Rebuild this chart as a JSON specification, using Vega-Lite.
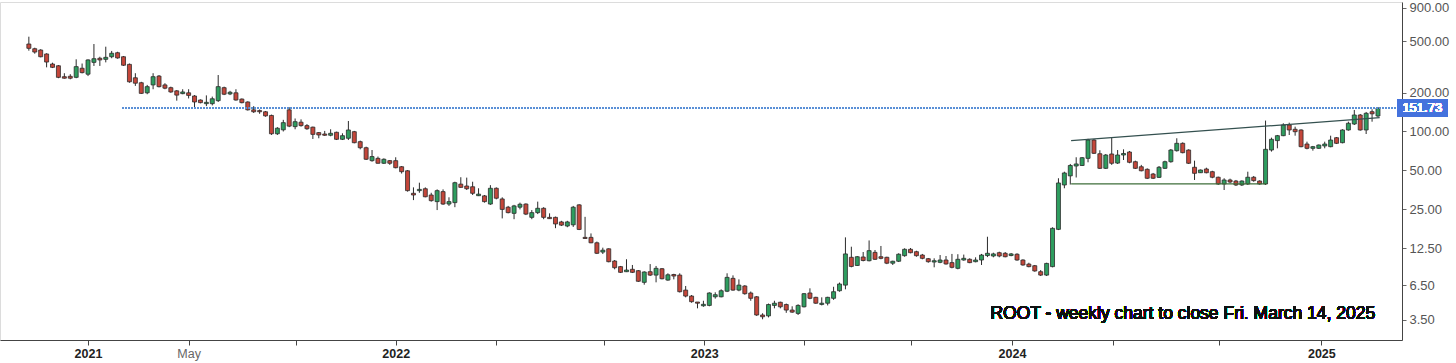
{
 "$schema": "https://vega.github.io/schema/vega-lite/v6.json",
 "width": 1402,
 "height": 338,
 "autosize": {"type": "none"},
 "padding": {"left": 0, "top": 2, "right": 54, "bottom": 23},
 "background": "white",
 "config": {"view": {"stroke": "#dcdcdc"}, "font": "Liberation Sans"},
 "data": {"values": [
  {"d":"2020-10-26","o":474,"h":540,"l":421,"c":439},
  {"d":"2020-11-02","o":436,"h":444,"l":399,"c":411},
  {"d":"2020-11-09","o":426,"h":432,"l":374,"c":378},
  {"d":"2020-11-16","o":397,"h":402,"l":313,"c":344},
  {"d":"2020-11-23","o":332,"h":340,"l":309,"c":313},
  {"d":"2020-11-30","o":322,"h":326,"l":258,"c":262},
  {"d":"2020-12-07","o":265,"h":282,"l":256,"c":258},
  {"d":"2020-12-14","o":267,"h":277,"l":253,"c":258},
  {"d":"2020-12-21","o":262,"h":361,"l":258,"c":317},
  {"d":"2020-12-28","o":308,"h":335,"l":281,"c":285},
  {"d":"2021-01-04","o":277,"h":361,"l":268,"c":357},
  {"d":"2021-01-11","o":342,"h":474,"l":321,"c":365},
  {"d":"2021-01-18","o":368,"h":378,"l":321,"c":357},
  {"d":"2021-01-25","o":361,"h":452,"l":342,"c":374},
  {"d":"2021-02-01","o":378,"h":419,"l":368,"c":402},
  {"d":"2021-02-08","o":406,"h":413,"l":365,"c":370},
  {"d":"2021-02-15","o":378,"h":383,"l":321,"c":325},
  {"d":"2021-02-22","o":330,"h":335,"l":238,"c":242},
  {"d":"2021-03-01","o":260,"h":282,"l":225,"c":236},
  {"d":"2021-03-08","o":238,"h":242,"l":195,"c":197},
  {"d":"2021-03-15","o":199,"h":229,"l":194,"c":222},
  {"d":"2021-03-22","o":229,"h":282,"l":212,"c":265},
  {"d":"2021-03-29","o":268,"h":273,"l":219,"c":222},
  {"d":"2021-04-05","o":229,"h":236,"l":212,"c":216},
  {"d":"2021-04-12","o":218,"h":222,"l":199,"c":202},
  {"d":"2021-04-19","o":206,"h":209,"l":173,"c":191},
  {"d":"2021-04-26","o":196,"h":212,"l":194,"c":202},
  {"d":"2021-05-03","o":199,"h":212,"l":180,"c":190},
  {"d":"2021-05-10","o":188,"h":191,"l":154,"c":169},
  {"d":"2021-05-17","o":175,"h":177,"l":165,"c":167},
  {"d":"2021-05-24","o":164,"h":190,"l":157,"c":168},
  {"d":"2021-05-31","o":164,"h":186,"l":159,"c":179},
  {"d":"2021-06-07","o":173,"h":273,"l":169,"c":222},
  {"d":"2021-06-14","o":218,"h":222,"l":191,"c":194},
  {"d":"2021-06-21","o":195,"h":206,"l":191,"c":201},
  {"d":"2021-06-28","o":199,"h":212,"l":173,"c":175},
  {"d":"2021-07-05","o":178,"h":180,"l":165,"c":167},
  {"d":"2021-07-12","o":169,"h":171,"l":145,"c":147},
  {"d":"2021-07-19","o":147,"h":157,"l":139,"c":142},
  {"d":"2021-07-26","o":145,"h":148,"l":137,"c":142},
  {"d":"2021-08-02","o":142,"h":144,"l":130,"c":132},
  {"d":"2021-08-09","o":133,"h":135,"l":94,"c":96},
  {"d":"2021-08-16","o":96,"h":108,"l":94,"c":106},
  {"d":"2021-08-23","o":103,"h":123,"l":100,"c":117},
  {"d":"2021-08-30","o":147,"h":154,"l":108,"c":110},
  {"d":"2021-09-06","o":109,"h":126,"l":104,"c":119},
  {"d":"2021-09-13","o":118,"h":124,"l":109,"c":111},
  {"d":"2021-09-20","o":111,"h":114,"l":103,"c":105},
  {"d":"2021-09-27","o":108,"h":109,"l":87.5,"c":95},
  {"d":"2021-10-04","o":98,"h":99,"l":88.6,"c":94},
  {"d":"2021-10-11","o":95.6,"h":101,"l":92.5,"c":93.5},
  {"d":"2021-10-18","o":93.5,"h":104,"l":91.8,"c":96.8},
  {"d":"2021-10-25","o":98.6,"h":99.6,"l":85.9,"c":87},
  {"d":"2021-11-01","o":87,"h":96.8,"l":85.9,"c":92.8},
  {"d":"2021-11-08","o":88.6,"h":120.5,"l":85.9,"c":102.7},
  {"d":"2021-11-15","o":99.6,"h":101,"l":81,"c":81.9},
  {"d":"2021-11-22","o":83.4,"h":85,"l":72.8,"c":74.9},
  {"d":"2021-11-29","o":74.9,"h":76.3,"l":60.2,"c":61},
  {"d":"2021-12-06","o":59.5,"h":71.9,"l":58.4,"c":64},
  {"d":"2021-12-13","o":62,"h":64,"l":56.5,"c":56.8},
  {"d":"2021-12-20","o":56.8,"h":62,"l":56.1,"c":61},
  {"d":"2021-12-27","o":59.5,"h":60.2,"l":55.2,"c":56.8},
  {"d":"2022-01-03","o":59.5,"h":63.2,"l":51.9,"c":52.5},
  {"d":"2022-01-10","o":53.4,"h":54.1,"l":47.3,"c":48.9},
  {"d":"2022-01-17","o":49.7,"h":50.3,"l":34.3,"c":34.9},
  {"d":"2022-01-24","o":33.3,"h":37,"l":29.5,"c":32.3},
  {"d":"2022-01-31","o":34.9,"h":40.2,"l":33.6,"c":35.7},
  {"d":"2022-02-07","o":36.1,"h":37,"l":31,"c":31.3},
  {"d":"2022-02-14","o":32.3,"h":33.6,"l":28.7,"c":29.2},
  {"d":"2022-02-21","o":28.7,"h":35.7,"l":24.7,"c":34.9},
  {"d":"2022-02-28","o":34.3,"h":35.7,"l":27.1,"c":27.5},
  {"d":"2022-03-07","o":27.5,"h":31,"l":26.6,"c":28.7},
  {"d":"2022-03-14","o":28.2,"h":40.9,"l":26,"c":40.2},
  {"d":"2022-03-21","o":39.2,"h":44.3,"l":36.8,"c":37},
  {"d":"2022-03-28","o":37.9,"h":44,"l":35.3,"c":36.1},
  {"d":"2022-04-04","o":37.4,"h":40.9,"l":32.3,"c":33.3},
  {"d":"2022-04-11","o":31.9,"h":36.4,"l":31.7,"c":32.8},
  {"d":"2022-04-18","o":31.8,"h":32.3,"l":28.2,"c":28.7},
  {"d":"2022-04-25","o":27.5,"h":38.5,"l":27.1,"c":36.4},
  {"d":"2022-05-02","o":36.4,"h":37,"l":29.9,"c":30.5},
  {"d":"2022-05-09","o":30.1,"h":31,"l":21.3,"c":25},
  {"d":"2022-05-16","o":26,"h":26.6,"l":23.3,"c":23.6},
  {"d":"2022-05-23","o":23.3,"h":27.1,"l":21,"c":26.6},
  {"d":"2022-05-30","o":26,"h":28.2,"l":25,"c":27.4},
  {"d":"2022-06-06","o":27.5,"h":27.8,"l":22.6,"c":23},
  {"d":"2022-06-13","o":21.7,"h":24.7,"l":21,"c":23.6},
  {"d":"2022-06-20","o":23.6,"h":28.7,"l":23,"c":25.5},
  {"d":"2022-06-27","o":25.5,"h":26,"l":21,"c":21.7},
  {"d":"2022-07-04","o":21.7,"h":23.3,"l":21.1,"c":21.2},
  {"d":"2022-07-11","o":21.7,"h":22,"l":17.9,"c":19.3},
  {"d":"2022-07-18","o":20,"h":20.4,"l":18.6,"c":18.9},
  {"d":"2022-07-25","o":18.6,"h":20.4,"l":18.2,"c":20},
  {"d":"2022-08-01","o":19,"h":26.6,"l":18.3,"c":26},
  {"d":"2022-08-08","o":27.1,"h":27.4,"l":17.3,"c":17.5},
  {"d":"2022-08-15","o":15.2,"h":21.9,"l":14.8,"c":14.9},
  {"d":"2022-08-22","o":15.2,"h":16.3,"l":13.7,"c":13.8},
  {"d":"2022-08-29","o":13.8,"h":14.1,"l":11.3,"c":11.45},
  {"d":"2022-09-05","o":11.7,"h":12.65,"l":11.3,"c":12.1},
  {"d":"2022-09-12","o":12.4,"h":12.5,"l":9.75,"c":9.86},
  {"d":"2022-09-19","o":9.98,"h":10.16,"l":8.61,"c":8.86},
  {"d":"2022-09-26","o":9.03,"h":9.14,"l":8.06,"c":8.16},
  {"d":"2022-10-03","o":8.25,"h":10.3,"l":8.2,"c":8.5},
  {"d":"2022-10-10","o":8.61,"h":9.3,"l":8.06,"c":8.16},
  {"d":"2022-10-17","o":8.4,"h":8.5,"l":6.87,"c":6.96},
  {"d":"2022-10-24","o":6.83,"h":8.31,"l":6.55,"c":8.21},
  {"d":"2022-10-31","o":8.25,"h":9.45,"l":7.64,"c":7.77},
  {"d":"2022-11-07","o":7.77,"h":9.14,"l":6.83,"c":8.76},
  {"d":"2022-11-14","o":8.7,"h":8.81,"l":7.2,"c":7.28},
  {"d":"2022-11-21","o":7.11,"h":8.02,"l":7.02,"c":7.81},
  {"d":"2022-11-28","o":7.85,"h":7.95,"l":7.2,"c":7.64},
  {"d":"2022-12-05","o":7.77,"h":8.02,"l":5.7,"c":5.78},
  {"d":"2022-12-12","o":5.95,"h":6.4,"l":5.23,"c":5.35},
  {"d":"2022-12-19","o":5.35,"h":5.45,"l":4.75,"c":4.84},
  {"d":"2022-12-26","o":4.81,"h":4.81,"l":4.3,"c":4.71},
  {"d":"2023-01-02","o":4.5,"h":4.92,"l":4.42,"c":4.62},
  {"d":"2023-01-09","o":4.53,"h":5.72,"l":4.46,"c":5.65},
  {"d":"2023-01-16","o":5.28,"h":5.72,"l":5.11,"c":5.48},
  {"d":"2023-01-23","o":5.28,"h":6.03,"l":5.23,"c":5.88},
  {"d":"2023-01-30","o":5.83,"h":8.02,"l":5.74,"c":7.46},
  {"d":"2023-02-06","o":7.33,"h":7.73,"l":5.88,"c":5.95},
  {"d":"2023-02-13","o":5.95,"h":7.2,"l":5.83,"c":6.5},
  {"d":"2023-02-20","o":6.4,"h":6.5,"l":5.48,"c":5.58},
  {"d":"2023-02-27","o":5.65,"h":5.8,"l":4.92,"c":5.14},
  {"d":"2023-03-06","o":5.28,"h":5.35,"l":3.76,"c":3.82},
  {"d":"2023-03-13","o":3.82,"h":3.94,"l":3.54,"c":3.7},
  {"d":"2023-03-20","o":3.76,"h":4.68,"l":3.66,"c":4.6},
  {"d":"2023-03-27","o":4.53,"h":4.92,"l":4.3,"c":4.71},
  {"d":"2023-04-03","o":4.79,"h":4.84,"l":4.3,"c":4.42},
  {"d":"2023-04-10","o":4.6,"h":4.68,"l":3.97,"c":4.17},
  {"d":"2023-04-17","o":4.17,"h":4.46,"l":3.97,"c":4.02},
  {"d":"2023-04-24","o":3.93,"h":4.62,"l":3.82,"c":4.53},
  {"d":"2023-05-01","o":4.42,"h":5.65,"l":4.37,"c":5.58},
  {"d":"2023-05-08","o":5.65,"h":6.14,"l":5.06,"c":5.14},
  {"d":"2023-05-15","o":5.23,"h":5.28,"l":4.66,"c":4.71},
  {"d":"2023-05-22","o":4.61,"h":5.23,"l":4.53,"c":4.71},
  {"d":"2023-05-29","o":4.71,"h":5.28,"l":4.53,"c":5.23},
  {"d":"2023-06-05","o":5.14,"h":6.31,"l":5,"c":5.78},
  {"d":"2023-06-12","o":5.88,"h":6.8,"l":5.78,"c":6.63},
  {"d":"2023-06-19","o":6.5,"h":15.2,"l":6.03,"c":11.32},
  {"d":"2023-06-26","o":10.66,"h":12.87,"l":8.92,"c":9.06},
  {"d":"2023-07-03","o":9.22,"h":10.9,"l":9.14,"c":10.77},
  {"d":"2023-07-10","o":10.72,"h":11.71,"l":9.92,"c":10.07},
  {"d":"2023-07-17","o":10.03,"h":14.39,"l":9.92,"c":12},
  {"d":"2023-07-24","o":11.64,"h":12.14,"l":10.16,"c":10.29},
  {"d":"2023-07-31","o":10.77,"h":13.04,"l":10.29,"c":10.47},
  {"d":"2023-08-07","o":10.66,"h":10.77,"l":9.44,"c":9.6},
  {"d":"2023-08-14","o":9.6,"h":10.03,"l":9.3,"c":9.94},
  {"d":"2023-08-21","o":9.94,"h":11.45,"l":9.8,"c":11.26},
  {"d":"2023-08-28","o":10.97,"h":12.51,"l":10.77,"c":12.29},
  {"d":"2023-09-04","o":12.29,"h":12.58,"l":11.45,"c":11.57},
  {"d":"2023-09-11","o":11.78,"h":11.98,"l":10.77,"c":10.97},
  {"d":"2023-09-18","o":11.1,"h":11.32,"l":10.29,"c":10.47},
  {"d":"2023-09-25","o":10.4,"h":10.53,"l":9.68,"c":9.86},
  {"d":"2023-10-02","o":9.8,"h":10.47,"l":8.92,"c":10.03},
  {"d":"2023-10-09","o":9.75,"h":11.1,"l":9.6,"c":10.16},
  {"d":"2023-10-16","o":10.16,"h":10.91,"l":9.36,"c":9.47},
  {"d":"2023-10-23","o":9.7,"h":11.32,"l":8.76,"c":8.92},
  {"d":"2023-10-30","o":8.76,"h":11.26,"l":8.61,"c":10.29},
  {"d":"2023-11-06","o":10.16,"h":11.19,"l":10.03,"c":10.47},
  {"d":"2023-11-13","o":10.29,"h":10.47,"l":9.6,"c":9.7},
  {"d":"2023-11-20","o":9.86,"h":10.66,"l":9.75,"c":10.16},
  {"d":"2023-11-27","o":10.16,"h":11.32,"l":9.3,"c":11.1},
  {"d":"2023-12-04","o":11,"h":15.37,"l":10.7,"c":11.45},
  {"d":"2023-12-11","o":10.91,"h":11.57,"l":10.66,"c":11.32},
  {"d":"2023-12-18","o":11.57,"h":11.78,"l":10.66,"c":10.91},
  {"d":"2023-12-25","o":11.45,"h":11.71,"l":10.66,"c":10.77},
  {"d":"2024-01-01","o":11,"h":11.51,"l":10.86,"c":11.32},
  {"d":"2024-01-08","o":11.26,"h":11.45,"l":10.03,"c":10.16},
  {"d":"2024-01-15","o":10.16,"h":10.29,"l":9.18,"c":9.3},
  {"d":"2024-01-22","o":9.45,"h":9.68,"l":8.92,"c":9.03},
  {"d":"2024-01-29","o":9.18,"h":9.3,"l":8.25,"c":8.36},
  {"d":"2024-02-05","o":8.25,"h":8.5,"l":7.64,"c":7.77},
  {"d":"2024-02-12","o":7.77,"h":9.68,"l":7.64,"c":9.56},
  {"d":"2024-02-19","o":9.03,"h":18.18,"l":8.92,"c":17.85},
  {"d":"2024-02-26","o":17.53,"h":43.5,"l":17.3,"c":40},
  {"d":"2024-03-04","o":38.6,"h":48.9,"l":36.4,"c":47.8},
  {"d":"2024-03-11","o":45.4,"h":56.1,"l":38.9,"c":54.6},
  {"d":"2024-03-18","o":54.1,"h":63.2,"l":44.1,"c":56.1},
  {"d":"2024-03-25","o":54.6,"h":63.5,"l":54.1,"c":62.7},
  {"d":"2024-04-01","o":62,"h":87.8,"l":57.8,"c":85.9},
  {"d":"2024-04-08","o":85.9,"h":87.5,"l":67,"c":67.8},
  {"d":"2024-04-15","o":67.3,"h":71.6,"l":51.3,"c":51.9},
  {"d":"2024-04-22","o":51.9,"h":67,"l":51.3,"c":65.8},
  {"d":"2024-04-29","o":67,"h":89.9,"l":55.2,"c":56.8},
  {"d":"2024-05-06","o":57,"h":71.9,"l":56.1,"c":65.8},
  {"d":"2024-05-13","o":65.8,"h":72.8,"l":60.2,"c":67.6},
  {"d":"2024-05-20","o":69.4,"h":70.7,"l":56.8,"c":57.8},
  {"d":"2024-05-27","o":58.4,"h":59.5,"l":51.3,"c":51.9},
  {"d":"2024-06-03","o":53.4,"h":55.2,"l":49.2,"c":49.7},
  {"d":"2024-06-10","o":51,"h":51.9,"l":42.9,"c":43.5},
  {"d":"2024-06-17","o":46.9,"h":47.8,"l":42.9,"c":43.5},
  {"d":"2024-06-24","o":44.2,"h":54.1,"l":43.7,"c":52.9},
  {"d":"2024-07-01","o":51.9,"h":59.5,"l":51.3,"c":58.4},
  {"d":"2024-07-08","o":58.4,"h":73.2,"l":57.4,"c":71.9},
  {"d":"2024-07-15","o":71.05,"h":88.6,"l":69.9,"c":81},
  {"d":"2024-07-22","o":81,"h":82.4,"l":67.8,"c":68.6},
  {"d":"2024-07-29","o":71.9,"h":72.8,"l":56.1,"c":56.8},
  {"d":"2024-08-05","o":52.9,"h":59.5,"l":42.2,"c":47.5},
  {"d":"2024-08-12","o":48,"h":50.8,"l":47.8,"c":50.4},
  {"d":"2024-08-19","o":51.3,"h":52.5,"l":47.5,"c":48},
  {"d":"2024-08-26","o":48.9,"h":49.7,"l":43.5,"c":44.3},
  {"d":"2024-09-02","o":44.3,"h":44.8,"l":38.6,"c":39.3},
  {"d":"2024-09-09","o":39.3,"h":43.5,"l":35.3,"c":42.2},
  {"d":"2024-09-16","o":42.2,"h":43.2,"l":39.8,"c":40.7},
  {"d":"2024-09-23","o":41.4,"h":42.2,"l":37.9,"c":38.6},
  {"d":"2024-09-30","o":38.6,"h":41.9,"l":37.9,"c":41.4},
  {"d":"2024-10-07","o":39.3,"h":48.9,"l":38.6,"c":44.3},
  {"d":"2024-10-14","o":44.3,"h":45.3,"l":40.9,"c":41.7},
  {"d":"2024-10-21","o":41.4,"h":41.9,"l":38.8,"c":39.3},
  {"d":"2024-10-28","o":39.3,"h":121.4,"l":38.6,"c":72.8},
  {"d":"2024-11-04","o":71.9,"h":89.6,"l":69.9,"c":87},
  {"d":"2024-11-11","o":85,"h":94,"l":74.1,"c":92.8},
  {"d":"2024-11-18","o":92.8,"h":115.7,"l":92,"c":112.2},
  {"d":"2024-11-25","o":112.2,"h":116.9,"l":93.9,"c":102.7},
  {"d":"2024-12-02","o":104,"h":108.9,"l":92.8,"c":99.6},
  {"d":"2024-12-09","o":102.7,"h":104,"l":75.5,"c":76.3},
  {"d":"2024-12-16","o":80,"h":83.4,"l":72.8,"c":74.1},
  {"d":"2024-12-23","o":74.1,"h":77.3,"l":71.1,"c":76.3},
  {"d":"2024-12-30","o":74.1,"h":79.3,"l":73.5,"c":78.6},
  {"d":"2025-01-06","o":77.3,"h":83.4,"l":74.1,"c":80},
  {"d":"2025-01-13","o":76.3,"h":92.8,"l":75.5,"c":85.9},
  {"d":"2025-01-20","o":89.5,"h":90.6,"l":80,"c":81},
  {"d":"2025-01-27","o":81.9,"h":104,"l":81,"c":102.7},
  {"d":"2025-02-03","o":102.7,"h":119,"l":101.5,"c":115.7},
  {"d":"2025-02-10","o":114.2,"h":146.6,"l":112.2,"c":134.1},
  {"d":"2025-02-17","o":134.1,"h":136.5,"l":101.5,"c":102.7},
  {"d":"2025-02-24","o":102.7,"h":141.5,"l":95.6,"c":138.2},
  {"d":"2025-03-03","o":142.2,"h":148.4,"l":119,"c":136.9},
  {"d":"2025-03-10","o":131.7,"h":154,"l":129.3,"c":151.73}
 ]},
 "layer": [
  {
   "mark": {"type": "rule", "color": "#2b2b2b", "strokeWidth": 1},
   "encoding": {
    "x": {"field": "d", "type": "temporal",
     "scale": {"type": "utc", "domain": [{"year": 2020, "month": 9, "date": 27, "hours": 19, "utc": true}, {"year": 2025, "month": 4, "date": 1, "hours": 12, "utc": true}]},
     "axis": {
      "title": null, "grid": false, "labelOverlap": false, "labelFlush": false,
      "values": [
       {"year": 2021, "month": 1, "date": 4, "utc": true},
       {"year": 2021, "month": 5, "date": 3, "utc": true},
       {"year": 2021, "month": 9, "date": 7, "utc": true},
       {"year": 2022, "month": 1, "date": 3, "utc": true},
       {"year": 2022, "month": 5, "date": 2, "utc": true},
       {"year": 2022, "month": 9, "date": 6, "utc": true},
       {"year": 2023, "month": 1, "date": 3, "utc": true},
       {"year": 2023, "month": 5, "date": 1, "utc": true},
       {"year": 2023, "month": 9, "date": 5, "utc": true},
       {"year": 2024, "month": 1, "date": 2, "utc": true},
       {"year": 2024, "month": 5, "date": 1, "utc": true},
       {"year": 2024, "month": 9, "date": 3, "utc": true},
       {"year": 2025, "month": 1, "date": 2, "utc": true}
      ],
      "labelExpr": "utcmonth(datum.value) == 0 ? utcFormat(datum.value, '%Y') : ((utcyear(datum.value) == 2021 && utcmonth(datum.value) == 4) ? 'May' : '')",
      "domainColor": "#444444", "tickColor": "#444444", "tickSize": 5, "labelPadding": 2,
      "labelFontSize": 12.5, "labelFont": "Liberation Sans",
      "labelColor": {"condition": {"test": "utcmonth(datum.value) == 0", "value": "#222222"}, "value": "#666666"},
      "labelFontWeight": {"condition": {"test": "utcmonth(datum.value) == 0", "value": "bold"}, "value": "normal"}
     }
    },
    "y": {"field": "l", "type": "quantitative",
     "scale": {"type": "log", "domain": [2.448, 1001], "nice": false},
     "axis": {
      "orient": "right", "title": null, "grid": false,
      "values": [3.5, 6.5, 12.5, 25, 50, 100, 200, 500, 900], "format": ".2f",
      "domainColor": "#444444", "tickColor": "#666666", "tickSize": 4, "labelPadding": 3,
      "labelFontSize": 13, "labelColor": "#555555", "labelFont": "Liberation Sans"
     }
    },
    "y2": {"field": "h"}
   }
  },
  {
   "mark": {"type": "bar", "size": 4, "stroke": "#2b2b2b", "strokeWidth": 0.8},
   "encoding": {
    "x": {"field": "d", "type": "temporal"},
    "y": {"field": "o", "type": "quantitative"},
    "y2": {"field": "c"},
    "fill": {"condition": {"test": "datum.o > datum.c", "value": "#c4463a"}, "value": "#2e9d5f"}
   }
  },
  {
   "mark": {"type": "rule", "color": "#5b8fd6", "strokeDash": [1, 2], "strokeWidth": 1},
   "encoding": {
    "x": {"datum": {"year": 2021, "month": 2, "date": 14, "utc": true}},
    "x2": {"datum": {"year": 2025, "month": 4, "date": 1, "hours": 12, "utc": true}},
    "y": {"datum": 151.73}
   }
  },
  {
   "data": {"values": [{"d": "2024-03-12", "p": 85}, {"d": "2025-03-12", "p": 128}]},
   "mark": {"type": "line", "color": "#34504f", "strokeWidth": 1.2},
   "encoding": {
    "x": {"field": "d", "type": "temporal"},
    "y": {"field": "p", "type": "quantitative"}
   }
  },
  {
   "data": {"values": [{"d": "2024-03-12", "p": 39.3}, {"d": "2024-10-29", "p": 39.3}]},
   "mark": {"type": "line", "color": "#3e6e3a", "strokeWidth": 1.2},
   "encoding": {
    "x": {"field": "d", "type": "temporal"},
    "y": {"field": "p", "type": "quantitative"}
   }
  },
  {
   "mark": {"type": "text", "align": "right", "baseline": "middle", "fontSize": 17.5, "font": "Liberation Sans", "color": "#111111"},
   "encoding": {
    "x": {"datum": {"year": 2025, "month": 3, "date": 6, "hours": 17, "utc": true}},
    "y": {"datum": 3.88},
    "text": {"value": "ROOT - weekly chart to close Fri. March 14, 2025"}
   }
  },
  {
   "mark": {"type": "rect", "color": "#4472dd"},
   "encoding": {
    "x": {"datum": {"year": 2025, "month": 4, "date": 1, "hours": 12, "utc": true}},
    "x2": {"datum": {"year": 2025, "month": 5, "date": 31, "utc": true}},
    "y": {"datum": 129.4},
    "y2": {"datum": 178.3}
   }
  },
  {
   "mark": {"type": "text", "align": "center", "baseline": "middle", "fontSize": 13, "font": "Liberation Sans", "color": "white"},
   "encoding": {
    "x": {"datum": {"year": 2025, "month": 5, "date": 1, "hours": 9, "utc": true}},
    "y": {"datum": 151.73},
    "text": {"value": "151.73"}
   }
  }
 ]
}
